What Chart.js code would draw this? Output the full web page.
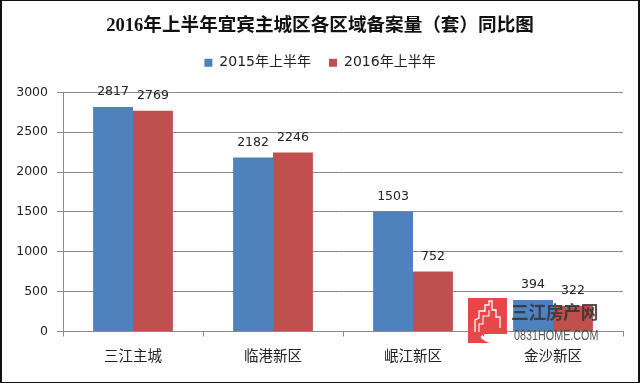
<!DOCTYPE html>
<html>
<head>
<meta charset="utf-8">
<style>
    body { margin: 0; background: #fff; }
    #wrap { position: relative; width: 640px; height: 383px; overflow: hidden; }
    #frame { position: absolute; left: 0; top: 0; width: 640px; height: 383px; box-sizing: border-box; border: 1px solid #111; border-left-width: 2px; border-right-width: 2px; pointer-events: none; }
    #logo { position: absolute; left: 468px; top: 298px; }
    #wmName { position: absolute; left: 511px; top: 298px; font: bold 18px "Noto Sans CJK SC"; letter-spacing: -0.2px; color: rgba(50, 50, 50, 0.85); white-space: nowrap; transform-origin: left top; transform: scaleX(0.98); }
    #wmSite { position: absolute; left: 514px; top: 327px; font: 14px "Liberation Sans"; color: rgba(70, 70, 70, 0.9); white-space: nowrap; transform-origin: left top; transform: scaleX(0.77); }
</style>
<script src="https://cdn.jsdelivr.net/npm/chart.js@4"></script>
</head>
<body>
<div id="wrap">
    <canvas id="chart" width="640" height="383"></canvas>
    <svg id="logo" width="39" height="45" viewBox="0 0 39 45">
        <path d="M0 0H39V36H18Q10 38 14 41Q18 44 22 45H0Z" fill="#e8474a"/>
        <path d="M7 34V22L11 20V13H17V7H21V3H24V12H28V19H32V30" fill="none" stroke="#fff" stroke-width="1.3"/>
        <path d="M11 34V26H15V18H21V12" fill="none" stroke="#fff" stroke-width="1.1"/>
    </svg>
    <div id="wmName">三江房产网</div>
    <div id="wmSite">0831HOME.COM</div>
    <div id="frame"></div>
</div>
<script>
const chartTitle = '2016年上半年宜宾主城区各区域备案量（套）同比图';
const categories = ['三江主城', '临港新区', '岷江新区', '金沙新区'];
const seriesNames = ['2015年上半年', '2016年上半年'];
const values2015 = [2817, 2182, 1503, 394];
const values2016 = [2769, 2246, 752, 322];
const yTicks = [0, 500, 1000, 1500, 2000, 2500, 3000];

const axisColor = '#8a8a8a';
const textColor = '#222';

// white page behind the chart, extra room under the legend, number above each bar
const barLabels = {
    id: 'barLabels',
    beforeInit(chart) {
        const legendFit = chart.legend.fit;
        chart.legend.fit = function () {
            legendFit.call(this);
            this.height += 12.5;
        };
    },
    beforeDraw(chart) {
        const ctx = chart.ctx;
        ctx.save();
        ctx.fillStyle = '#fff';
        ctx.fillRect(0, 0, chart.width, chart.height);
        ctx.restore();
    },
    afterDatasetsDraw(chart) {
        const ctx = chart.ctx;
        ctx.save();
        ctx.font = '12.5px "DejaVu Sans"';
        ctx.fillStyle = textColor;
        ctx.textAlign = 'center';
        ctx.textBaseline = 'middle';
        chart.data.datasets.forEach((dataset, i) => {
            chart.getDatasetMeta(i).data.forEach((bar, j) => {
                ctx.fillText(dataset.data[j], bar.x, bar.y - 15);
            });
        });
        ctx.restore();
    }
};

new Chart(document.getElementById('chart').getContext('2d'), {
    type: 'bar',
    data: {
        labels: categories,
        datasets: [
            { label: seriesNames[0], data: values2015, backgroundColor: '#4f81bd' },
            { label: seriesNames[1], data: values2016, backgroundColor: '#c0504d' }
        ]
    },
    options: {
        responsive: false,
        animation: false,
        categoryPercentage: 0.57,
        barPercentage: 1,
        plugins: {
            title: {
                display: true,
                text: chartTitle,
                color: '#111',
                font: { family: '"Liberation Serif", "Noto Sans CJK SC"', size: 18.6, weight: 'bold', lineHeight: 0.61 },
                padding: { top: 20.5, bottom: 6 }
            },
            legend: {
                position: 'top',
                labels: {
                    boxWidth: 8,
                    boxHeight: 8,
                    padding: 18,
                    color: textColor,
                    font: { family: '"DejaVu Sans", "Noto Sans CJK SC"', size: 14, lineHeight: 1.43 }
                }
            },
            tooltip: { enabled: false }
        },
        scales: {
            x: {
                afterFit(scale) { scale.height = 51.5; },
                border: { color: axisColor },
                grid: { drawOnChartArea: false, offset: true, color: axisColor, tickLength: 5 },
                ticks: { color: textColor, padding: 10, font: { family: '"Noto Sans CJK SC"', size: 14.5 } }
            },
            y: {
                min: 0,
                max: yTicks[yTicks.length - 1],
                afterFit(scale) { scale.width = 63; },
                afterBuildTicks(scale) { scale.ticks = yTicks.map(v => ({ value: v })); },
                border: { color: axisColor },
                grid: { color: axisColor, tickLength: 6 },
                ticks: { color: textColor, padding: 9, callback: v => String(v), font: { family: '"DejaVu Sans"', size: 12.5 } }
            },
            // empty strip right of the plot
            rightGap: {
                type: 'linear',
                position: 'right',
                afterFit(scale) { scale.width = 17; },
                border: { display: false },
                grid: { display: false },
                ticks: { display: false }
            }
        }
    },
    plugins: [barLabels]
});
</script>
</body>
</html>
